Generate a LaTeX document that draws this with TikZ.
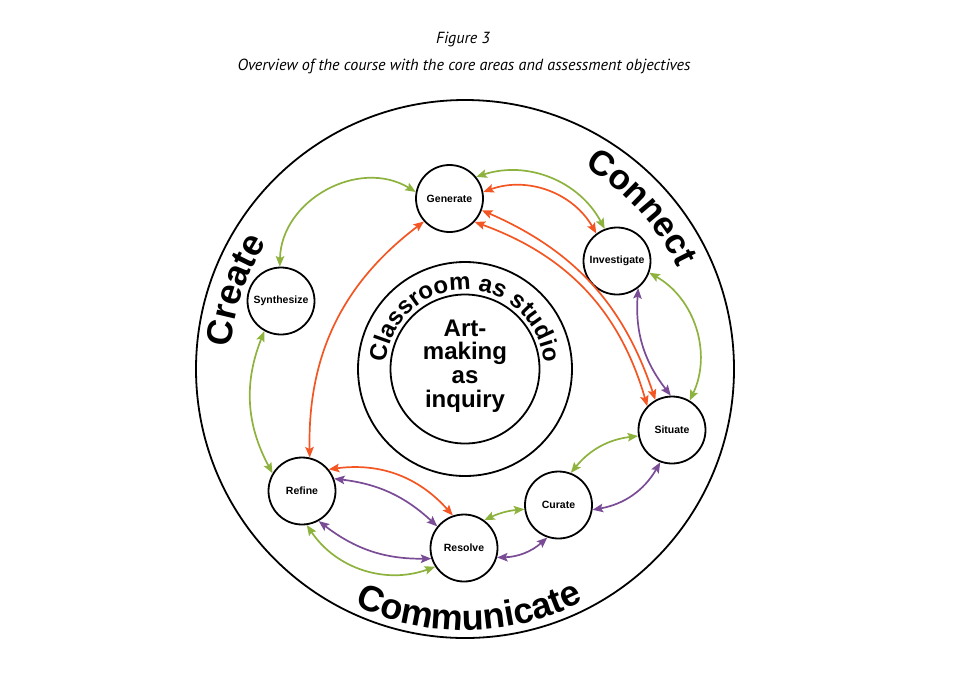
\documentclass[tikz,border=0pt]{standalone}
\usepackage{fontspec}
\setmainfont{Liberation Sans}
\newfontfamily\titlefont{PT Sans}
\usetikzlibrary{arrows.meta,decorations.text}
\definecolor{cgreen}{RGB}{141,178,62}
\definecolor{corange}{RGB}{243,86,34}
\definecolor{cpurple}{RGB}{122,76,150}
\tikzset{
  stage/.style={circle, draw, fill=white, line width=1.8pt, minimum size=67pt, inner sep=0pt,
    font=\bfseries\fontsize{10.5}{12}\selectfont},
  ring/.style={circle, draw, line width=1.8pt, inner sep=0pt},
  link/.style={line width=1.7pt,
    {Stealth[length=10.5pt,width=8.5pt,inset=2pt]}-{Stealth[length=10.5pt,width=8.5pt,inset=2pt]}},
  titletext/.style={font=\titlefont\itshape\fontsize{16.1}{18}\selectfont}
}
\begin{document}
\begin{tikzpicture}[x=1pt,y=1pt]
\useasboundingbox (0,0) rectangle (960,-697);
% titles
\node[titletext] (t1) at (463,-40) {Figure 3};
\node[titletext] (t2) at (464,-66) {Overview of the course with the core areas and assessment objectives};
% rings
\node[ring, minimum size=538pt] (outer) at (465,-369) {};
\node[ring, minimum size=214pt] (studio) at (465,-369) {};
\node[ring, minimum size=149pt] (inner) at (465,-369) {};
\node[align=center, font=\bfseries\fontsize{24}{23.8}\selectfont] (core) at (465,-366) {Art-\\making\\as\\inquiry};
% curved texts
\path[decorate, decoration={text along path, text align=center,
  text={|\bfseries\fontsize{36}{36}\selectfont|Create}}]
  (465,-369) ++(200:235pt) arc[start angle=200, end angle=122, radius=235pt];
\path[decorate, decoration={text along path, text align=center,
  text={|\bfseries\fontsize{35}{35}\selectfont|Connect}}]
  (465,-369) ++(82:235pt) arc[start angle=82, end angle=3, radius=235pt];
\path[decorate, decoration={text along path, text align=center,
  text={|\bfseries\fontsize{36}{36}\selectfont|Communicate}}]
  (465,-369) ++(222:261pt) arc[start angle=222, end angle=320, radius=261pt];
\path[decorate, decoration={text along path, text align=center,
  text={|\bfseries\fontsize{24}{24}\selectfont|Classroom as studio}}]
  (465,-369) ++(188:79pt) arc[start angle=188, end angle=-8, radius=79pt];
% stages
\node[stage] (gen) at (449.5,-198.5) {Generate};
\node[stage] (inv) at (617,-261) {Investigate};
\node[stage] (sit) at (672,-430) {Situate};
\node[stage] (cur) at (558.5,-505) {Curate};
\node[stage] (res) at (464,-548) {Resolve};
\node[stage] (ref) at (302,-491) {Refine};
\node[stage] (syn) at (281,-301) {Synthesize};
% links
\draw[link,cgreen] (syn.92) to[bend left=60, looseness=1.1] (gen.169);
\draw[link,cgreen] (gen.39) to[bend left=40] (inv.111);
\draw[link,corange] (gen.11) to[bend left=40] (inv.127);
\draw[link,corange] (gen.-20) to[bend left=24] (sit.119);
\draw[link,corange] (gen.-43) to[bend left=27] (sit.136);
\draw[link,corange] (gen.222) to[bend right=27] (ref.77);
\draw[link,cpurple] (inv.-52) to[bend right=21] (sit.92);
\draw[link,cgreen] (inv.-20) to[bend left=43] (sit.59);
\draw[link,cgreen] (sit.190) to[bend right=22] (cur.69);
\draw[link,cpurple] (sit.250) to[bend left=25] (cur.-8);
\draw[link,cgreen] (cur.187) to[bend right=10] (res.54);
\draw[link,cpurple] (cur.251) to[bend left=20] (res.-16);
\draw[link,corange] (ref.39) to[bend left=28] (res.109);
\draw[link,cpurple] (ref.21) to[bend left=18] (res.141);
\draw[link,cpurple] (ref.-61) to[bend right=19] (res.198);
\draw[link,cgreen] (ref.-82) to[bend right=38] (res.213);
\draw[link,cgreen] (syn.241) to[bend right=25] (ref.149);
\end{tikzpicture}
\end{document}
